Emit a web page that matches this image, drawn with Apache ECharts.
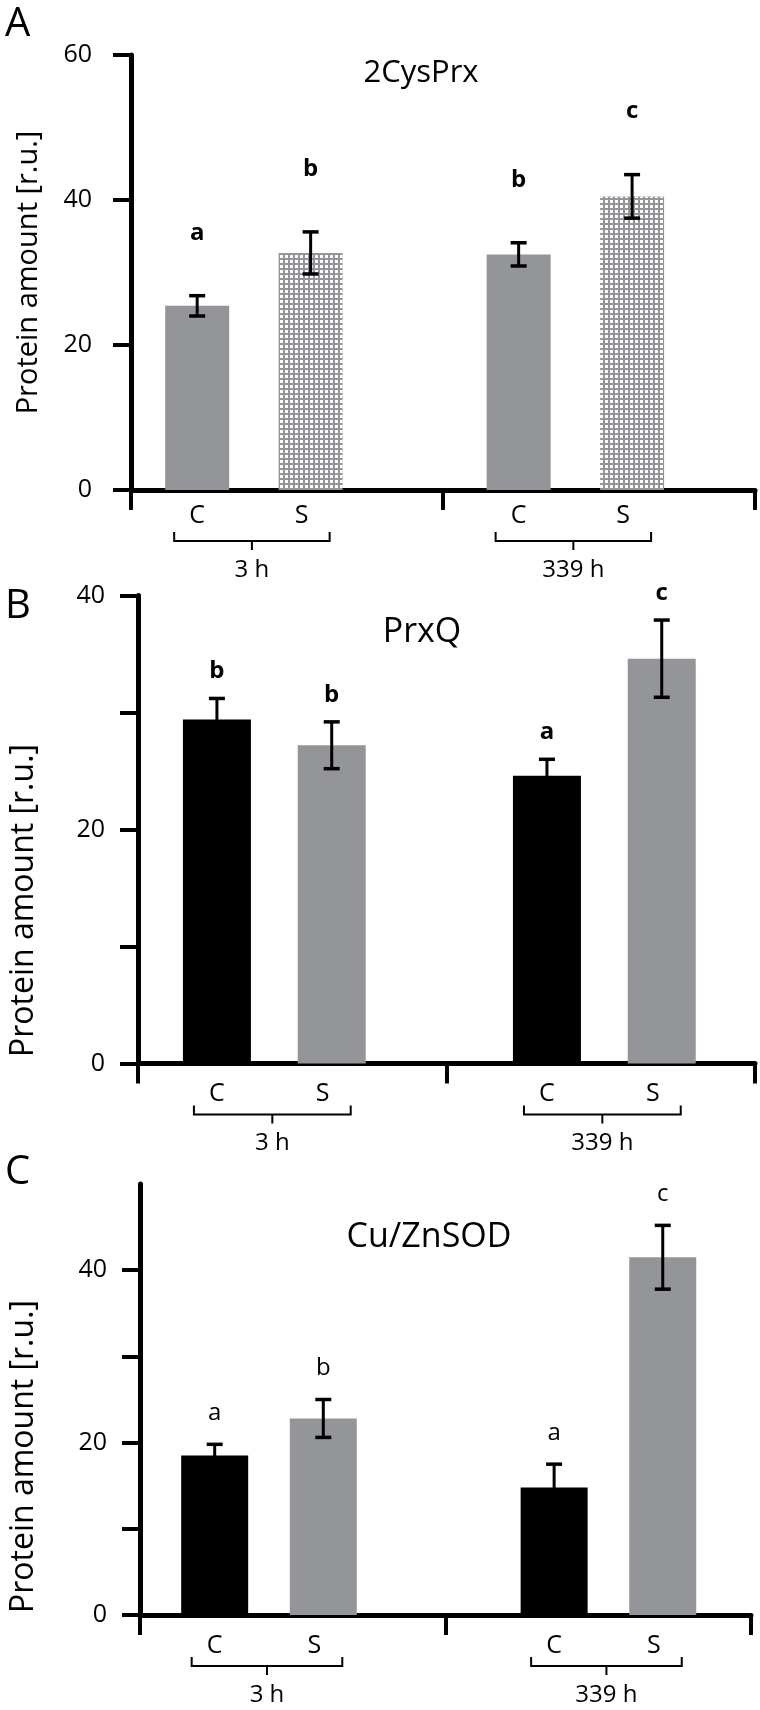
<!DOCTYPE html>
<html>
<head>
<meta charset="utf-8">
<script src="https://cdn.jsdelivr.net/npm/echarts@6/dist/echarts.min.js"></script>
<style>
html, body { margin: 0; padding: 0; background: #ffffff; }
#chart { width: 760px; height: 1710px; }
</style>
</head>
<body>
<div id="chart"></div>
<script>
// ---------------- DATA ----------------
const groups = ['3 h', '339 h'];
const treatments = ['C', 'S'];
const panelLetters = ['A', 'B', 'C'];
const proteinNames = ['2CysPrx', 'PrxQ', 'Cu/ZnSOD'];
const yAxisTitle = 'Protein amount [r.u.]';

// order of values: 3 h C, 3 h S, 339 h C, 339 h S
const cysPrxMeans = [25.4, 32.7, 32.5, 40.5];
const cysPrxErrors = [1.4, 2.9, 1.6, 3.0];
const cysPrxLetters = ['a', 'b', 'b', 'c'];
const cysPrxTickLabels = [0, 20, 40, 60];

const prxQMeans = [29.4, 27.2, 24.6, 34.6];
const prxQErrors = [1.8, 2.0, 1.4, 3.3];
const prxQLetters = ['b', 'b', 'a', 'c'];
const prxQTickLabels = [0, 20, 40];

const sodMeans = [18.5, 22.8, 14.8, 41.5];
const sodErrors = [1.3, 2.2, 2.7, 3.7];
const sodLetters = ['a', 'b', 'a', 'c'];
const sodTickLabels = [0, 20, 40];

// ---------------- STYLE / LAYOUT ----------------
const FONT = "'Open Sans', 'Noto Sans', sans-serif";
const INK = '#000000';
const GREY = '#939598';

const panels = [
  {
    letter: panelLetters[0], title: proteinNames[0],
    means: cysPrxMeans, errors: cysPrxErrors, letters: cysPrxLetters, tickLabels: cysPrxTickLabels,
    yMax: 60, tickStep: 20, tickTop: 60,
    grid: { left: 131, top: 55, width: 624, height: 435 },
    slotCount: 33, barSlots: [3, 9, 20, 26], barWidth: 64,
    colors: [GREY, GREY], patternOnS: true,
    boldLetters: true, letterGap: 51,
    labelMargin: 39, nameGap: 88, nameSize: 29, nameShift: 0, catMargin: 13,
    titleX: 416, titleTop: 53, titleSize: 31, letterTop: 0
  },
  {
    letter: panelLetters[1], title: proteinNames[1],
    means: prxQMeans, errors: prxQErrors, letters: prxQLetters, tickLabels: prxQTickLabels,
    yMax: 40, tickStep: 10, tickTop: 40,
    grid: { left: 133, top: 595.5, width: 622, height: 468 },
    slotCount: 43, barSlots: [5, 13, 28, 36], barWidth: 68,
    colors: [INK, GREY], patternOnS: false,
    boldLetters: true, letterGap: 15,
    labelMargin: 33, nameGap: 98, nameSize: 32, nameShift: 71, catMargin: 18,
    titleX: 417, titleTop: 610, titleSize: 34, letterTop: 582
  },
  {
    letter: panelLetters[2], title: proteinNames[2],
    means: sodMeans, errors: sodErrors, letters: sodLetters, tickLabels: sodTickLabels,
    yMax: 50, tickStep: 10, tickTop: 40,
    grid: { left: 135, top: 1184, width: 616, height: 431 },
    slotCount: 45, barSlots: [5, 13, 30, 38], barWidth: 67,
    colors: [INK, GREY], patternOnS: false,
    boldLetters: false, letterGap: 19,
    labelMargin: 33, nameGap: 100, nameSize: 32, nameShift: 57, catMargin: 18,
    titleX: 424, titleTop: 1215, titleSize: 34, letterTop: 1148
  }
];

const option = {
  animation: false,
  backgroundColor: '#ffffff',
  title: [], grid: [], xAxis: [], yAxis: [], series: []
};

panels.forEach((p, pi) => {
  option.title.push({
    text: p.letter, left: 0, top: p.letterTop,
    textStyle: { fontFamily: FONT, fontSize: 40, fontWeight: 'normal', color: INK }
  });
  option.title.push({
    text: p.title, left: p.titleX, top: p.titleTop, textAlign: 'center',
    textStyle: { fontFamily: FONT, fontSize: p.titleSize, fontWeight: 'normal', color: INK }
  });

  option.grid.push(Object.assign({ containLabel: false }, p.grid));

  // slot categories: treatment names at bar slots, blanks elsewhere
  const slotNames = Array.from({ length: p.slotCount }, () => '');
  p.barSlots.forEach((s, i) => { slotNames[s] = treatments[i % treatments.length]; });

  // visible axis: two time groups, ticks on boundaries
  option.xAxis.push({
    type: 'category', gridIndex: pi, data: groups, position: 'bottom',
    boundaryGap: true,
    axisLine: { show: true, onZero: false, lineStyle: { color: INK, width: 5 } },
    axisTick: { show: true, interval: 0, length: 20, lineStyle: { color: INK, width: 4 } },
    axisLabel: { show: false },
    splitLine: { show: false }
  });
  // bar placement axis (labels C / S)
  option.xAxis.push({
    type: 'category', gridIndex: pi, data: slotNames, position: 'bottom',
    boundaryGap: true,
    axisLine: { show: false }, axisTick: { show: false }, splitLine: { show: false },
    axisLabel: {
      show: true, interval: 0, margin: p.catMargin,
      formatter: v => v === 'S' ? '{s|S}' : (v === 'C' ? '{c|C}' : ''),
      rich: {
        c: { fontFamily: FONT, fontSize: 25, color: INK },
        s: { fontFamily: FONT, fontSize: 25, color: INK, padding: [0, 18, 0, 0] }
      }
    }
  });

  const tickVals = [];
  for (let v = 0; v <= p.tickTop; v += p.tickStep) tickVals.push(v);

  option.yAxis.push({
    type: 'value', gridIndex: pi, min: 0, max: p.yMax, interval: p.tickStep,
    name: yAxisTitle, nameLocation: 'middle', nameRotate: 90, nameGap: p.nameGap,
    nameTextStyle: {
      fontFamily: FONT, fontSize: p.nameSize, color: INK,
      padding: [0, p.nameShift * 2, 0, 0]
    },
    axisLine: { show: true, lineStyle: { color: INK, width: 5 } },
    axisTick: { show: true, length: 18, lineStyle: { color: INK, width: 4 }, customValues: tickVals },
    axisLabel: {
      margin: p.labelMargin, fontFamily: FONT, fontSize: 25, color: INK,
      customValues: p.tickLabels,
      formatter: v => (p.tickLabels.indexOf(v) >= 0 ? String(v) : '')
    },
    splitLine: { show: false }
  });

  const xi = pi * 2 + 1;

  treatments.forEach((t, ti) => {
    const data = slotNames.map(() => '-');
    groups.forEach((g, gi) => {
      const k = gi * treatments.length + ti;
      data[p.barSlots[k]] = p.means[k];
    });
    const itemStyle = { color: p.colors[ti] };
    if (ti === 1 && p.patternOnS) {
      itemStyle.decal = {
        symbol: 'rect', symbolSize: 1, color: '#ffffff',
        dashArrayX: [3, 2], dashArrayY: [3, 2], rotation: 0
      };
    }
    option.series.push({
      type: 'bar', name: t, xAxisIndex: xi, yAxisIndex: pi,
      data: data, barWidth: p.barWidth, barGap: '-100%', itemStyle: itemStyle,
      silent: true, z: 2
    });
  });

  // error bars + significance letters
  option.series.push({
    type: 'custom', xAxisIndex: xi, yAxisIndex: pi, clip: false, z: 4, silent: true,
    encode: { x: 0, y: 1 },
    data: p.means.map((m, i) => [p.barSlots[i], m, p.errors[i], i]),
    renderItem: (params, api) => {
      const i = api.value(3);
      const top = api.coord([api.value(0), api.value(1) + api.value(2)]);
      const bot = api.coord([api.value(0), api.value(1) - api.value(2)]);
      const x = top[0], hw = 8;
      const ls = { stroke: INK, lineWidth: 3 };
      const cs = { stroke: INK, lineWidth: 3.5 };
      return {
        type: 'group',
        children: [
          { type: 'line', shape: { x1: x, y1: top[1], x2: x, y2: bot[1] }, style: ls },
          { type: 'line', shape: { x1: x - hw, y1: top[1], x2: x + hw, y2: top[1] }, style: cs },
          { type: 'line', shape: { x1: x - hw, y1: bot[1], x2: x + hw, y2: bot[1] }, style: cs },
          {
            type: 'text', x: x, y: top[1] - p.letterGap,
            style: {
              text: p.letters[i], fill: INK, fontFamily: FONT, fontSize: 24,
              fontWeight: p.boldLetters ? 'bold' : 'normal',
              align: 'center', verticalAlign: 'bottom',
              textAlign: 'center', textVerticalAlign: 'bottom'
            }
          }
        ]
      };
    }
  });

  // group brackets + group names
  option.series.push({
    type: 'custom', xAxisIndex: xi, yAxisIndex: pi, clip: false, z: 4, silent: true,
    encode: { x: 0, y: 1 },
    data: groups.map((g, gi) => [p.barSlots[gi * 2], 0, gi]),
    renderItem: (params, api) => {
      const gi = api.value(2);
      const c = api.coord([p.barSlots[gi * 2], 0]);
      const s = api.coord([p.barSlots[gi * 2 + 1], 0]);
      const y0 = c[1];
      const x1 = c[0] - 23, x2 = s[0] + 19, xm = (x1 + x2) / 2;
      const ls = { stroke: INK, lineWidth: 2, fill: null };
      return {
        type: 'group',
        children: [
          { type: 'polyline', shape: { points: [[x1, y0 + 42], [x1, y0 + 51], [x2, y0 + 51], [x2, y0 + 42]] }, style: ls },
          { type: 'line', shape: { x1: xm, y1: y0 + 51, x2: xm, y2: y0 + 60 }, style: ls },
          {
            type: 'text', x: xm, y: y0 + 68,
            style: {
              text: groups[gi], fill: INK, fontFamily: FONT, fontSize: 24,
              align: 'center', verticalAlign: 'top',
              textAlign: 'center', textVerticalAlign: 'top'
            }
          }
        ]
      };
    }
  });
});

const chart = echarts.init(document.getElementById('chart'), null, { renderer: 'canvas' });
chart.setOption(option);
</script>
</body>
</html>
